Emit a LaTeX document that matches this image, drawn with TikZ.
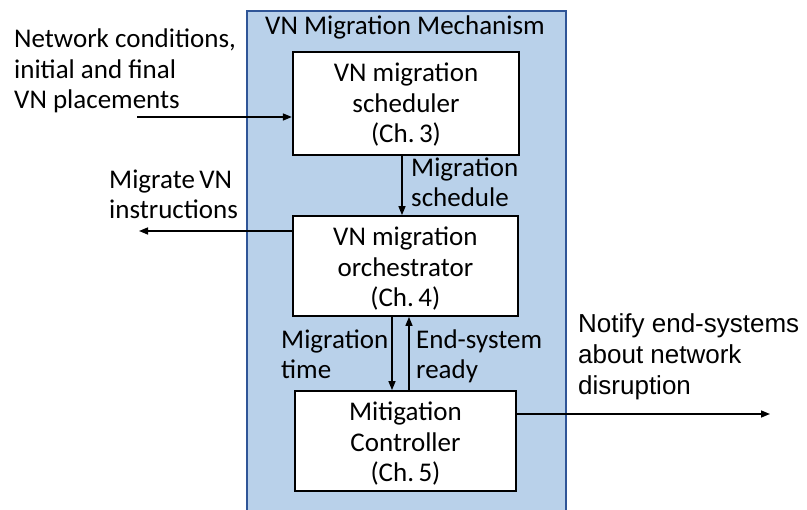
\documentclass[tikz,border=0pt]{standalone}
\usepackage{fontspec}
\setmainfont{Carlito}
\newfontfamily\notefont{Liberation Sans}
\usetikzlibrary{arrows.meta}
\definecolor{panelfill}{RGB}{185,209,234}
\definecolor{panelline}{RGB}{47,85,151}
\begin{document}
\begin{tikzpicture}[x=1pt,y=-1pt,
  txt/.style={font=\fontsize{27}{30.5}\selectfont, inner sep=0pt},
  lbl/.style={txt, align=left, anchor=base west},
  blktxt/.style={txt, align=center, anchor=base},
  blk/.style={draw=black, line width=1.8pt, fill=white, inner sep=0pt},
  flow/.style={line width=1.5pt, -{Triangle[length=9pt,width=7pt]}}]
  \useasboundingbox (0,0) rectangle (807,510);

  % mechanism panel
  \node[draw=panelline, line width=2pt, fill=panelfill, inner sep=0pt,
        minimum width=319pt, minimum height=505pt, anchor=north west]
        (panel) at (246,10) {};
  \node[blktxt] (title) at (405,35) {VN Migration Mechanism};

  % components (text nodes are placed by the baseline of their last line)
  \node[blk, minimum width=226.5pt, minimum height=103pt] (sched) at (406,103.5) {};
  \node[blktxt] (schedtxt) at (406,143) {VN migration\\scheduler\\(Ch.\,3)};
  \node[blk, minimum width=225.5pt, minimum height=100pt] (orch) at (405.4,266) {};
  \node[blktxt] (orchtxt) at (405.4,307) {VN migration\\orchestrator\\(Ch.\,4)};
  \node[blk, minimum width=221pt, minimum height=100pt] (ctrl) at (405.5,441) {};
  \node[blktxt] (ctrltxt) at (405.5,482) {Mitigation\\Controller\\(Ch.\,5)};

  % external labels
  \node[lbl] (inputs) at (14,109) {Network conditions,\\initial and final\\VN placements};
  \node[lbl] (instr) at (109,219) {Migrate\,VN\\instructions};
  \node[lbl] (schedlbl) at (411,207) {Migration\\schedule};
  \node[lbl] (timelbl) at (281,379) {Migration\\time};
  \node[lbl] (readylbl) at (416,379) {End-system\\ready};
  \node[inner sep=0pt, align=left, anchor=base west,
        font=\notefont\fontsize{26}{31}\selectfont] (notify) at (578,395)
        {Notify end-systems\\about network\\disruption};

  % connector ends and lanes
  \coordinate (inStart) at (137,117);
  \coordinate (instrEnd) at (139,231);
  \coordinate (notifyEnd) at (770,414);
  \coordinate (laneA) at (402,0);
  \coordinate (laneB) at (392,0);
  \coordinate (laneC) at (409,0);

  \draw[flow] (inStart) -- (sched.west |- inStart);
  \draw[flow] (sched.south -| laneA) -- (orch.north -| laneA);
  \draw[flow] (orch.west |- instrEnd) -- (instrEnd);
  \draw[flow] (orch.south -| laneB) -- (ctrl.north -| laneB);
  \draw[flow] (ctrl.north -| laneC) -- (orch.south -| laneC);
  \draw[flow] (ctrl.east |- notifyEnd) -- (notifyEnd);
\end{tikzpicture}
\end{document}
